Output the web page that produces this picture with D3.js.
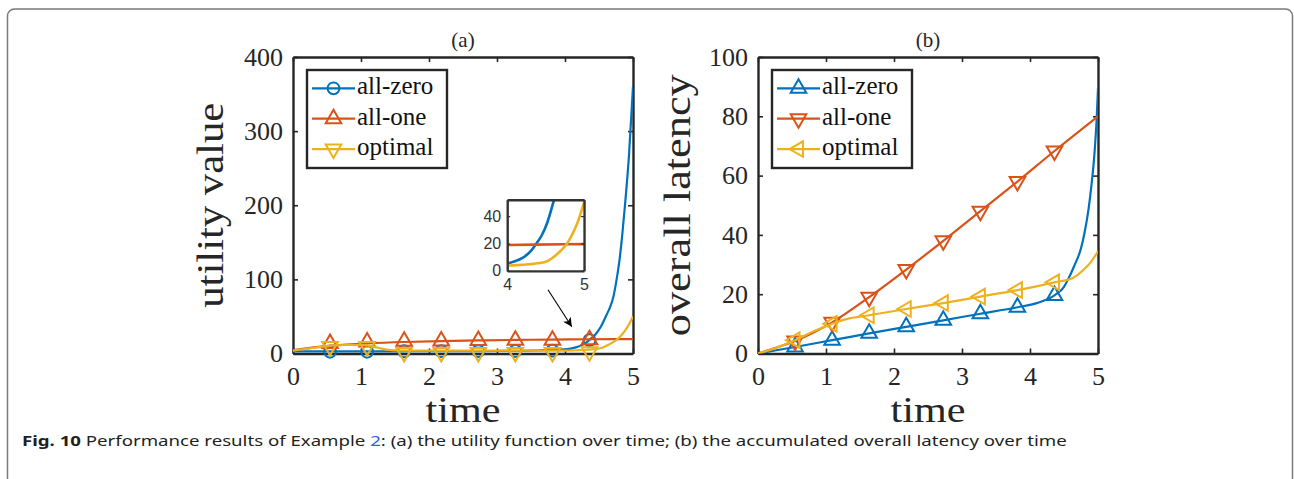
<!DOCTYPE html>
<html>
<head>
<meta charset="utf-8">
<script src="https://cdn.jsdelivr.net/npm/d3@7"></script>
<style>
  body { margin: 0; background: #fff; }
  svg { display: block; }
</style>
</head>
<body>
<div class="figure"></div>
<script>
// ---- values ----
const seriesNames = ["all-zero", "all-one", "optimal"];
const timeTicks = [0, 1, 2, 3, 4, 5];
const utilTicks = [0, 100, 200, 300, 400];
const latencyTicks = [0, 20, 40, 60, 80, 100];
const insetTimeTicks = [4, 5];
const insetUtilTicks = [0, 20, 40];

// markers sit on every few samples
const markTimes = [0.545, 1.09, 1.635, 2.18, 2.725, 3.27, 3.815, 4.36];

// (a) utility value
const utilZeroT = [0, 0.5, 1, 1.5, 2, 2.5, 3, 3.5, 4, 4.1, 4.2, 4.3, 4.38, 4.45, 4.52, 4.61, 4.66, 4.71, 4.75, 4.8, 4.84, 4.88, 4.94, 5];
const utilZeroV = [3, 3, 3, 3, 3.1, 3.2, 3.4, 3.9, 5.5, 7, 9.5, 14, 20, 26, 35, 52, 62, 76, 95, 125, 158, 198, 266, 360];
const utilZeroMarks = [2.4, 2.4, 3, 3.1, 3.2, 3.4, 3.8, 18];

const utilOneT = [0, 0.25, 0.545, 1.09, 1.635, 2.18, 2.725, 3.27, 3.815, 4.36, 5];
const utilOneV = [4.5, 7.5, 10.5, 13.5, 15.5, 16.8, 17.7, 18.3, 18.8, 19.2, 19.5];
const utilOneMarks = [13.6, 15.5, 16.5, 17, 17.5, 17.8, 18, 18.4];

const utilOptT = [0, 0.25, 0.5, 0.75, 1.0, 1.15, 1.3, 1.45, 1.6, 2, 3, 3.5, 4, 4.2, 4.4, 4.52, 4.64, 4.72, 4.78, 4.85, 4.92, 5];
const utilOptV = [4, 7, 10, 11.5, 11.5, 10, 6.5, 4.5, 4, 3.8, 3.8, 3.8, 3.9, 4.5, 5.5, 7, 11.8, 16, 20, 27, 36, 50];
const utilOptMarks = [9.5, 9.5, 1.5, 1.5, 1.5, 1.5, 1.5, 2.5];

// (b) overall latency
const latZeroT = [0, 0.25, 0.545, 1.09, 1.635, 2.18, 2.725, 3.27, 3.815, 4.1, 4.36, 4.5, 4.56, 4.65, 4.75, 4.8, 4.86, 4.9, 4.95, 4.98, 5];
const latZeroV = [0, 1, 2.2, 4.5, 6.8, 9, 11.2, 13.4, 15.6, 17, 19.6, 22.5, 25, 29.5, 35.5, 40.5, 48.5, 56, 68, 79, 89.5];
const latZeroMarks = [2.2, 4.5, 6.8, 9, 11.2, 13.4, 15.6, 19.6];

const latOneT = [0, 0.25, 0.545, 1.09, 1.635, 2.18, 2.725, 3.27, 3.815, 4.36, 5];
const latOneV = [0, 1.8, 4.2, 10.5, 19, 28.3, 38, 48, 58, 68.3, 80];
const latOneMarks = [4.2, 10.5, 19, 28.3, 38, 48, 58, 68.3];

const latOptT = [0, 0.25, 0.545, 0.8, 1.09, 1.3, 1.635, 2.18, 2.725, 3.27, 3.815, 4.36, 4.63, 4.8, 4.9, 5];
const latOptV = [0, 1.8, 4.5, 7.3, 10, 11.6, 12.9, 15, 17, 19.2, 21.4, 24, 25.5, 28.5, 31, 34.5];
const latOptMarks = [4.5, 10, 12.9, 15, 17, 19.2, 21.4, 24];

// ---- styles ----
const colors = ["#0072BD", "#D95319", "#EDB120"];
const axisColor = "#262626";
const serif = "'Liberation Serif', 'Times New Roman', serif";
const sans = "'Liberation Sans', Arial, sans-serif";
const intFormat = d3.format("d");

const W = 1294, H = 479;
const svg = d3.select(".figure").append("svg").attr("width", W).attr("height", H);

// outer frame of the figure box
svg.append("rect")
    .attr("x", 7.5).attr("y", 9)
    .attr("width", 1285).attr("height", 520)
    .attr("rx", 7)
    .attr("fill", "none")
    .attr("stroke", "#7a7a7a")
    .attr("stroke-width", 1.5);

// marker shape for a series
function markerPath(type, size){
    if(type === "circle") return d3.symbol(d3.symbolCircle, size || 110)();
    return d3.symbol(d3.symbolTriangle, size || 105)();
}
function markerRotate(type){
    if(type === "down") return 180;
    if(type === "left") return -90;
    return 0;
}

function styleAxis(a){
    a.select(".domain").attr("stroke", axisColor).attr("stroke-width", 2.4);
    a.selectAll(".tick line").attr("stroke", axisColor).attr("stroke-width", 1.6);
    a.attr("font-family", serif).attr("font-size", 26);
    a.selectAll("text").attr("fill", axisColor);
}

function drawPanel(p){
    const g = svg.append("g").attr("transform", `translate(${p.left}, ${p.top})`);

    const x = d3.scaleLinear().domain([0, 5]).range([0, p.width]);
    const y = d3.scaleLinear().domain(p.yDomain).range([p.height, 0]);

    // box with inward ticks on all four sides
    g.append("g").attr("transform", `translate(0, ${p.height})`)
        .call(d3.axisBottom(x).tickValues(timeTicks).tickFormat(intFormat).tickSizeInner(-5).tickSizeOuter(0).tickPadding(13))
        .call(styleAxis);
    g.append("g")
        .call(d3.axisTop(x).tickValues(timeTicks).tickSizeInner(-5).tickSizeOuter(0).tickFormat(() => ""))
        .call(styleAxis);
    g.append("g")
        .call(d3.axisLeft(y).tickValues(p.yTicks).tickFormat(intFormat).tickSizeInner(-5).tickSizeOuter(0).tickPadding(10))
        .call(styleAxis);
    g.append("g").attr("transform", `translate(${p.width}, 0)`)
        .call(d3.axisRight(y).tickValues(p.yTicks).tickSizeInner(-5).tickSizeOuter(0).tickFormat(() => ""))
        .call(styleAxis);

    // title and axis labels
    g.append("text")
        .text(p.title)
        .attr("x", p.width / 2).attr("y", -10)
        .attr("text-anchor", "middle")
        .attr("font-family", serif).attr("font-size", 21)
        .attr("fill", axisColor);
    g.append("text")
        .text("time")
        .attr("x", p.width / 2).attr("y", p.height + 68.5)
        .attr("text-anchor", "middle")
        .attr("font-family", serif).attr("font-size", 35)
        .attr("textLength", 75).attr("lengthAdjust", "spacingAndGlyphs")
        .attr("fill", axisColor);
    g.append("text")
        .text(p.yLabel)
        .attr("transform", `translate(${p.yLabelX}, ${p.height / 2}) rotate(-90)`)
        .attr("text-anchor", "middle")
        .attr("font-family", serif).attr("font-size", 38)
        .attr("textLength", p.yLabelLength).attr("lengthAdjust", "spacingAndGlyphs")
        .attr("fill", axisColor);

    const clipId = "clip-" + p.id;
    g.append("clipPath").attr("id", clipId)
        .append("rect").attr("width", p.width).attr("height", p.height);

    const line = d3.line()
        .x(d => x(d[0]))
        .y(d => y(d[1]))
        .curve(d3.curveMonotoneX);

    // each series: line then its markers
    p.series.forEach((s, i) => {
        g.append("path")
            .datum(d3.zip(s.t, s.v))
            .attr("clip-path", `url(#${clipId})`)
            .attr("fill", "none")
            .attr("stroke", colors[i])
            .attr("stroke-width", 2.2)
            .attr("d", line);

        g.selectAll(null)
            .data(d3.zip(markTimes, s.marks))
            .join("path")
            .attr("d", markerPath(s.marker))
            .attr("transform", d => `translate(${x(d[0])}, ${y(d[1])}) rotate(${markerRotate(s.marker)})`)
            .attr("fill", "none")
            .attr("stroke", colors[i])
            .attr("stroke-width", 2);
    });

    // legend
    const lg = g.append("g").attr("transform", `translate(14, 13)`);
    lg.append("rect")
        .attr("width", 140).attr("height", 98)
        .attr("fill", "#fff")
        .attr("stroke", axisColor).attr("stroke-width", 2.4);
    seriesNames.forEach((name, i) => {
        const ly = 18.3 + i * 30.4;
        lg.append("line")
            .attr("x1", 5).attr("x2", 48).attr("y1", ly).attr("y2", ly)
            .attr("stroke", colors[i]).attr("stroke-width", 2.2);
        lg.append("path")
            .attr("d", markerPath(p.series[i].marker))
            .attr("transform", `translate(26.5, ${ly}) rotate(${markerRotate(p.series[i].marker)})`)
            .attr("fill", "none")
            .attr("stroke", colors[i]).attr("stroke-width", 2);
        lg.append("text")
            .text(name)
            .attr("x", 50).attr("y", ly + 6)
            .attr("font-family", serif).attr("font-size", 25)
            .attr("fill", "#111");
    });

    return {g, x, y};
}

// ---- panel (a) ----
const panelA = drawPanel({
    id: "a", left: 293, top: 57, width: 340, height: 296.5,
    yDomain: [0, 400], yTicks: utilTicks,
    title: "(a)", yLabel: "utility value", yLabelX: -70, yLabelLength: 205,
    series: [
        {t: utilZeroT, v: utilZeroV, marks: utilZeroMarks, marker: "circle"},
        {t: utilOneT, v: utilOneV, marks: utilOneMarks, marker: "up"},
        {t: utilOptT, v: utilOptV, marks: utilOptMarks, marker: "down"}
    ]
});

// ---- panel (b) ----
drawPanel({
    id: "b", left: 758, top: 57, width: 340, height: 296.5,
    yDomain: [0, 100], yTicks: latencyTicks,
    title: "(b)", yLabel: "overall latency", yLabelX: -68, yLabelLength: 262,
    series: [
        {t: latZeroT, v: latZeroV, marks: latZeroMarks, marker: "up"},
        {t: latOneT, v: latOneV, marks: latOneMarks, marker: "down"},
        {t: latOptT, v: latOptV, marks: latOptMarks, marker: "left"}
    ]
});

// ---- inset zoom of (a) for t in [4, 5] ----
const insetBox = {t0: 3.15, t1: 4.28, v0: 111.5, v1: 207.5};
const ia = panelA;
const inLeft = ia.x(insetBox.t0), inRight = ia.x(insetBox.t1);
const inTop = ia.y(insetBox.v1), inBottom = ia.y(insetBox.v0);
const ig = ia.g.append("g").attr("transform", `translate(${inLeft}, ${inTop})`);
const ix = d3.scaleLinear().domain([4, 5]).range([0, inRight - inLeft]);
const iy = d3.scaleLinear().domain([0, 52]).range([inBottom - inTop, 0]);

ig.append("rect")
    .attr("width", inRight - inLeft).attr("height", inBottom - inTop)
    .attr("fill", "#fff");
ig.append("clipPath").attr("id", "clip-inset")
    .append("rect").attr("width", inRight - inLeft).attr("height", inBottom - inTop);

const insetLine = d3.line().x(d => ix(d[0])).y(d => iy(d[1])).curve(d3.curveMonotoneX);
[[utilZeroT, utilZeroV], [utilOneT, utilOneV], [utilOptT, utilOptV]].forEach((s, i) => {
    ig.append("path")
        .datum(d3.zip(s[0], s[1]))
        .attr("clip-path", "url(#clip-inset)")
        .attr("fill", "none")
        .attr("stroke", colors[i])
        .attr("stroke-width", 2.6)
        .attr("d", insetLine);
});

function styleInset(a){
    a.select(".domain").attr("stroke", "#333").attr("stroke-width", 2.4);
    a.selectAll(".tick line").attr("stroke", "#333").attr("stroke-width", 1.2);
    a.attr("font-family", sans).attr("font-size", 16);
    a.selectAll("text").attr("fill", "#333");
}
ig.append("g").attr("transform", `translate(0, ${inBottom - inTop})`)
    .call(d3.axisBottom(ix).tickValues(insetTimeTicks).tickFormat(intFormat).tickSizeInner(-3).tickSizeOuter(0).tickPadding(8))
    .call(styleInset);
ig.append("g")
    .call(d3.axisTop(ix).tickValues(insetTimeTicks).tickSizeInner(-3).tickSizeOuter(0).tickFormat(() => ""))
    .call(styleInset);
ig.append("g")
    .call(d3.axisLeft(iy).tickValues(insetUtilTicks).tickFormat(intFormat).tickSizeInner(-3).tickSizeOuter(0).tickPadding(6))
    .call(styleInset);
ig.append("g").attr("transform", `translate(${inRight - inLeft}, 0)`)
    .call(d3.axisRight(iy).tickValues(insetUtilTicks).tickSizeInner(-3).tickSizeOuter(0).tickFormat(() => ""))
    .call(styleInset);

// arrow pointing from inset down to the zoomed region
const arrowFrom = [3.75, 86], arrowTo = [4.1, 36];
svg.append("defs").append("marker")
    .attr("id", "arrowhead")
    .attr("viewBox", "0 0 10 10")
    .attr("refX", 10).attr("refY", 5)
    .attr("markerWidth", 11).attr("markerHeight", 9)
    .attr("markerUnits", "userSpaceOnUse")
    .attr("orient", "auto")
    .append("path").attr("d", "M0,0 L10,5 L0,10 L2.5,5 Z").attr("fill", "#000");
ia.g.append("line")
    .attr("x1", ia.x(arrowFrom[0])).attr("y1", ia.y(arrowFrom[1]))
    .attr("x2", ia.x(arrowTo[0])).attr("y2", ia.y(arrowTo[1]))
    .attr("stroke", "#000").attr("stroke-width", 1.1)
    .attr("marker-end", "url(#arrowhead)");

// ---- caption ----
const caption = svg.append("text")
    .attr("x", 22).attr("y", 446)
    .attr("font-family", "'Noto Sans', 'Open Sans', sans-serif")
    .attr("font-size", 15)
    .attr("fill", "#231f20");
caption.append("tspan").attr("font-weight", "bold").text("Fig. 10");
caption.append("tspan").text(" Performance results of Example ");
caption.append("tspan").attr("fill", "#2f5bd8").text("2");
caption.append("tspan").text(": (a) the utility function over time; (b) the accumulated overall latency over time");
// squeeze to the width the caption takes in the figure
const capWidth = caption.node().getComputedTextLength();
caption.attr("transform", `translate(22, 0) scale(${1046 / capWidth}, 1) translate(-22, 0)`);
</script>
</body>
</html>
